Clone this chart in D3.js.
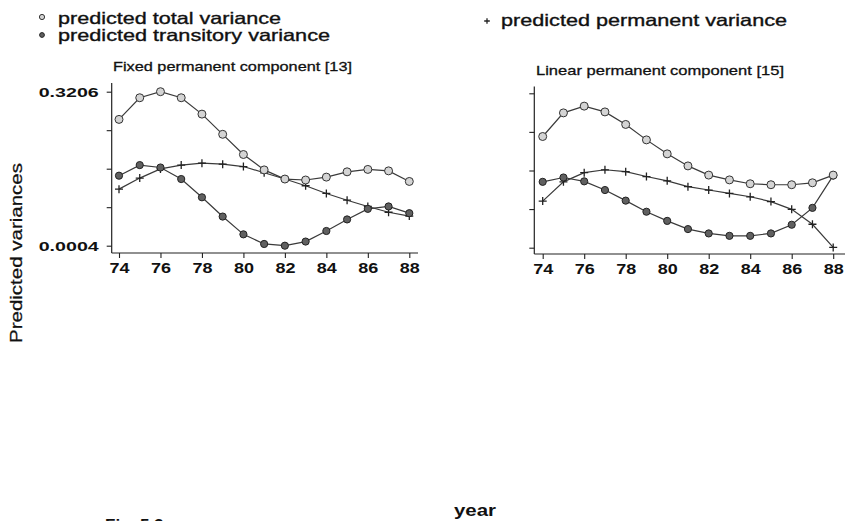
<!DOCTYPE html>
<html>
<head>
<meta charset="utf-8">
<script src="https://cdn.jsdelivr.net/npm/d3@7"></script>
<style>
  html, body { margin: 0; padding: 0; background: #fff; }
  svg { display: block; }
  text { font-family: "Liberation Sans", Arial, sans-serif; fill: #111; }
</style>
</head>
<body>
<svg id="chart" width="845" height="521"></svg>
<script>
// Survey years (19xx)
const years = [74, 75, 76, 77, 78, 79, 80, 81, 82, 83, 84, 85, 86, 87, 88];
const xTickValues = [74, 76, 78, 80, 82, 84, 86, 88];

// Fixed permanent component model [13]
const fixedTotal      = [0.263, 0.308, 0.3206, 0.308, 0.274, 0.232, 0.190, 0.158, 0.139, 0.137, 0.143, 0.154, 0.159, 0.156, 0.134];
const fixedTransitory = [0.146, 0.168, 0.163, 0.139, 0.101, 0.061, 0.024, 0.004, 0.0004, 0.009, 0.031, 0.055, 0.077, 0.082, 0.068];
const fixedPermanent  = [0.118, 0.141, 0.160, 0.168, 0.172, 0.170, 0.165, 0.152, 0.139, 0.125, 0.109, 0.095, 0.082, 0.070, 0.062];

// Linear permanent component model [15]
const linearTotal      = [0.231, 0.280, 0.294, 0.282, 0.256, 0.224, 0.195, 0.170, 0.151, 0.141, 0.133, 0.131, 0.131, 0.135, 0.151];
const linearTransitory = [0.137, 0.146, 0.138, 0.120, 0.098, 0.075, 0.056, 0.039, 0.030, 0.025, 0.025, 0.030, 0.048, 0.083, 0.150];
const linearPermanent  = [0.097, 0.137, 0.156, 0.162, 0.158, 0.148, 0.139, 0.127, 0.120, 0.113, 0.106, 0.096, 0.080, 0.049, 0.001];

// Shared value axis: five ticks, only the extremes labelled
const yTickValues = [0.0004, 0.0805, 0.1605, 0.2406, 0.3206];
const yTickLabels = ["0.0004", "", "", "", "0.3206"];

const svg = d3.select("#chart");
const ink = "#3a3a3a";

// Text helper: fixed font size, stretched to a set length
function label(g, x, y, str, size, len, opts = {}) {
  const t = g.append("text")
    .attr("x", x).attr("y", y)
    .attr("font-size", size)
    .attr("font-weight", opts.weight || "normal")
    .attr("text-anchor", opts.anchor || "start")
    .text(str);
  if (len) t.attr("textLength", len).attr("lengthAdjust", "spacingAndGlyphs");
  if (opts.heavy) t.attr("stroke", "#111").attr("stroke-width", opts.heavy);
  if (opts.transform) t.attr("transform", opts.transform);
  return t;
}

// Marker shapes
function totalMark(sel, r) {
  sel.append("circle").attr("r", r).attr("fill", "#d4d4d4").attr("stroke", "#333").attr("stroke-width", 1);
}
function transMark(sel, r) {
  sel.append("circle").attr("r", r).attr("fill", "#606060").attr("stroke", "#222").attr("stroke-width", 1);
}
function permMark(sel, s) {
  sel.append("path").attr("d", `M${-s},0H${s}M0,${-s}V${s}`).attr("stroke", "#222").attr("stroke-width", 1.3).attr("fill", "none");
}

// Legend
const legend = svg.append("g");
legend.append("g").attr("transform", "translate(42,17)").call(totalMark, 2.6);
legend.append("g").attr("transform", "translate(42,35)").call(transMark, 2.4);
legend.append("g").attr("transform", "translate(487,21)").call(permMark, 2.8);
label(legend, 58, 23.5, "predicted total variance", 16.5, 223, { heavy: 0.35 });
label(legend, 58, 40.5, "predicted transitory variance", 16.5, 272, { heavy: 0.35 });
label(legend, 501, 26, "predicted permanent variance", 16.5, 286, { heavy: 0.35 });

// Panels
const panels = [
  { title: "Fixed permanent component [13]", titleX: 113, titleY: 71, titleLen: 239,
    x0: 119, x1: 409.3, yBottom: 245.7, yTop: 91.7,
    axisX: 111.7, axisY: 253, axisTop: 83, axisRight: 418, showLabels: true,
    total: fixedTotal, trans: fixedTransitory, perm: fixedPermanent },
  { title: "Linear permanent component [15]", titleX: 536, titleY: 75, titleLen: 248,
    x0: 542.7, x1: 833.2, yBottom: 247.7, yTop: 93.3,
    axisX: 534.3, axisY: 254, axisTop: 86.5, axisRight: 846, showLabels: false,
    total: linearTotal, trans: linearTransitory, perm: linearPermanent }
];

panels.forEach(p => {
  const g = svg.append("g");
  const x = d3.scaleLinear().domain([74, 88]).range([p.x0, p.x1]);
  const y = d3.scaleLinear().domain([0.0004, 0.3206]).range([p.yBottom, p.yTop]);

  label(g, p.titleX, p.titleY, p.title, 13.5, p.titleLen, { heavy: 0.3 });

  // Axis lines
  g.append("line").attr("x1", p.axisX).attr("x2", p.axisX).attr("y1", p.axisTop).attr("y2", p.axisY)
    .attr("stroke", "#222").attr("stroke-width", 1.2);
  g.append("line").attr("x1", p.axisX).attr("x2", p.axisRight).attr("y1", p.axisY).attr("y2", p.axisY)
    .attr("stroke", "#222").attr("stroke-width", 1.2);

  // Value axis ticks
  const yAxis = d3.axisLeft(y).tickValues(yTickValues).tickSize(5).tickPadding(8)
    .tickFormat((d, i) => p.showLabels ? yTickLabels[i] : "");
  const ya = g.append("g").attr("transform", `translate(${p.axisX},0)`).call(yAxis);
  ya.select(".domain").remove();
  ya.selectAll(".tick line").attr("stroke", "#222").attr("stroke-width", 1.1);
  ya.selectAll(".tick text")
    .attr("font-family", "Liberation Sans, Arial, sans-serif")
    .attr("font-size", 13).attr("font-weight", "bold").attr("fill", "#111")
    .attr("dy", "0.36em")
    .attr("textLength", d => p.showLabels && (d === 0.0004 || d === 0.3206) ? 60 : null)
    .attr("lengthAdjust", "spacingAndGlyphs");

  // Year axis ticks
  const xAxis = d3.axisBottom(x).tickValues(xTickValues).tickSize(5).tickPadding(5).tickFormat(d3.format("d"));
  const xa = g.append("g").attr("transform", `translate(0,${p.axisY})`).call(xAxis);
  xa.select(".domain").remove();
  xa.selectAll(".tick line").attr("stroke", "#222").attr("stroke-width", 1.1);
  xa.selectAll(".tick text")
    .attr("font-family", "Liberation Sans, Arial, sans-serif")
    .attr("font-size", 14).attr("font-weight", "bold").attr("fill", "#111")
    .attr("textLength", 20).attr("lengthAdjust", "spacingAndGlyphs");

  const line = d3.line().x((d, i) => x(years[i])).y(d => y(d));
  [p.perm, p.trans, p.total].forEach(s => {
    g.append("path").datum(s).attr("d", line)
      .attr("fill", "none").attr("stroke", ink).attr("stroke-width", 1.2);
  });

  const mk = (series, fn, size) => {
    g.selectAll(null).data(series).enter().append("g")
      .attr("transform", (d, i) => `translate(${x(years[i])},${y(d)})`)
      .each(function () { fn(d3.select(this), size); });
  };
  mk(p.perm, permMark, 4);
  mk(p.trans, transMark, 3.6);
  mk(p.total, totalMark, 4);
});

// Shared axis titles
label(svg, 21.5, 253, "Predicted variances", 17, 180,
  { anchor: "middle", transform: "rotate(-90,21.5,253)", heavy: 0.25 });
label(svg, 475, 515.5, "year", 17, 42, { anchor: "middle", weight: "bold" });

// Figure caption (runs below the page edge)
label(svg, 105, 531, "Fig. 5.3.", 17, null, { weight: "bold" });
</script>
</body>
</html>
